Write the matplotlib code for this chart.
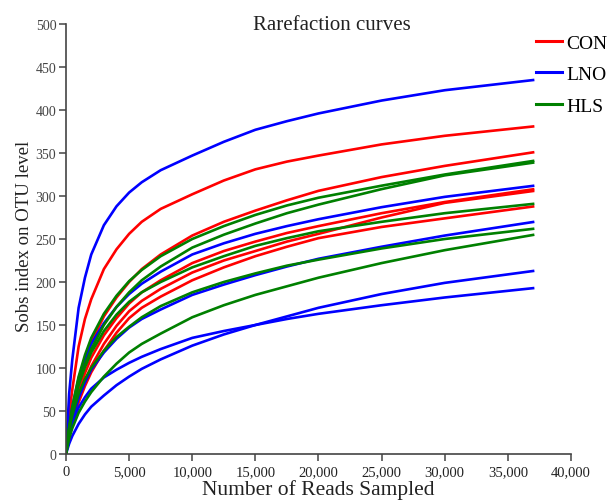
import matplotlib
matplotlib.use("Agg")
import matplotlib.pyplot as plt
from matplotlib.lines import Line2D
from matplotlib.ticker import FuncFormatter

plt.rcParams['font.family'] = ['Liberation Serif', 'DejaVu Serif']

# reads sampled (x positions where values were read)
reads = [0, 250, 500, 1000, 1500, 2000, 3000, 4000, 5000, 6000, 7500,
         10000, 12500, 15000, 17500, 20000, 25000, 30000, 37100]

# CON samples (red)
con_a = [0, 45, 75, 125, 157, 180, 215, 238, 256, 270, 285, 302, 318, 331, 340, 347, 360, 370, 381]
con_b = [0, 28, 50, 85, 110, 130, 160, 182, 200, 215, 232, 254, 270, 283, 295, 306, 322, 335, 351]
con_c = [0, 24, 42, 72, 94, 112, 138, 158, 175, 188, 202, 222, 236, 247, 257, 265, 280, 293, 308]
con_d = [0, 22, 38, 65, 85, 102, 128, 149, 166, 178, 192, 211, 225, 236, 247, 256, 275, 292, 306]
con_e = [0, 20, 35, 60, 79, 95, 120, 141, 158, 170, 183, 202, 217, 230, 241, 251, 264, 274, 288]

# LNO samples (blue)
lno_a = [0, 70, 110, 170, 205, 232, 266, 288, 304, 316, 330, 347, 363, 377, 387, 396, 411, 423, 435]
lno_b = [0, 32, 55, 88, 110, 128, 152, 171, 186, 198, 212, 232, 245, 256, 265, 273, 287, 299, 312]
lno_c = [0, 24, 40, 65, 83, 98, 118, 134, 147, 157, 168, 185, 197, 208, 218, 227, 241, 254, 270]
lno_d = [0, 12, 21, 35, 46, 55, 68, 80, 90, 99, 110, 126, 139, 150, 160, 170, 186, 199, 213]
lno_e = [0, 22, 35, 54, 66, 76, 89, 98, 106, 113, 122, 135, 143, 150, 157, 163, 173, 182, 193]

# HLS samples (green)
hls_a = [0, 32, 55, 90, 115, 135, 163, 184, 201, 214, 230, 250, 265, 278, 289, 298, 312, 325, 341]
hls_b = [0, 28, 50, 82, 104, 122, 150, 171, 188, 202, 218, 240, 255, 268, 280, 290, 308, 324, 339]
hls_c = [0, 30, 50, 80, 101, 118, 143, 162, 177, 188, 200, 217, 230, 242, 251, 259, 270, 280, 291]
hls_d = [0, 28, 45, 70, 87, 100, 120, 136, 148, 159, 172, 188, 200, 210, 219, 226, 239, 250, 262]
hls_e = [0, 18, 30, 48, 61, 72, 90, 105, 118, 128, 140, 159, 173, 185, 195, 205, 222, 237, 255]

groups = ['CON', 'LNO', 'HLS']
group_series = {
    'CON': [con_a, con_b, con_c, con_d, con_e],
    'LNO': [lno_a, lno_b, lno_c, lno_d, lno_e],
    'HLS': [hls_a, hls_b, hls_c, hls_d, hls_e],
}
colors = {'CON': '#ff0000', 'LNO': '#0000ff', 'HLS': '#008000'}

x_ticks = [0, 5000, 10000, 15000, 20000, 25000, 30000, 35000, 40000]
y_ticks = [0, 50, 100, 150, 200, 250, 300, 350, 400, 450, 500]

W, H = 616, 502
fig = plt.figure(figsize=(W / 100, H / 100), dpi=100)
ax = fig.add_axes([66 / W, 1 - 455 / H, (571 - 66) / W, (455 - 25) / H])

for g in groups:
    for s in group_series[g]:
        ax.plot(reads, s, color=colors[g], lw=1.9, solid_capstyle='butt',
                solid_joinstyle='round')

ax.set_xlim(0, 40000)
ax.set_ylim(0, 500)
ax.set_xticks(x_ticks)
ax.set_yticks(y_ticks)
ax.xaxis.set_major_formatter(FuncFormatter(lambda v, p: f"{int(v):,}"))

for side in ['top', 'right']:
    ax.spines[side].set_visible(False)
for side in ['left', 'bottom']:
    ax.spines[side].set_color('#444444')
    ax.spines[side].set_linewidth(1.2)

ax.tick_params(axis='both', direction='out', length=5, width=1.1, color='#444444')
ax.tick_params(axis='x', labelsize=10.5, labelcolor='#222222', pad=3)
ax.tick_params(axis='y', labelsize=10, labelcolor='#444444', pad=2)

fig.text(332 / W, 1 - 25 / H, 'Rarefaction curves', ha='center', va='center',
         fontsize=15, color='#222222')
fig.text(318 / W, 1 - 490 / H, 'Number of Reads Sampled', ha='center', va='center',
         fontsize=15.5, color='#222222')
fig.text(25 / W, 1 - 236 / H, 'Sobs index on OTU level', ha='center', va='center',
         rotation=90, fontsize=13.5, color='#222222')

handles = [Line2D([0], [0], color=colors[g], lw=2.2) for g in groups]
fig.legend(handles, groups, loc='upper left', bbox_to_anchor=(536 / W, 1 - 35 / H),
           frameon=False, fontsize=14, handlelength=1.35, handletextpad=0.2,
           labelspacing=0.72, borderpad=0, borderaxespad=0)

fig.savefig('out.png', dpi=100)
